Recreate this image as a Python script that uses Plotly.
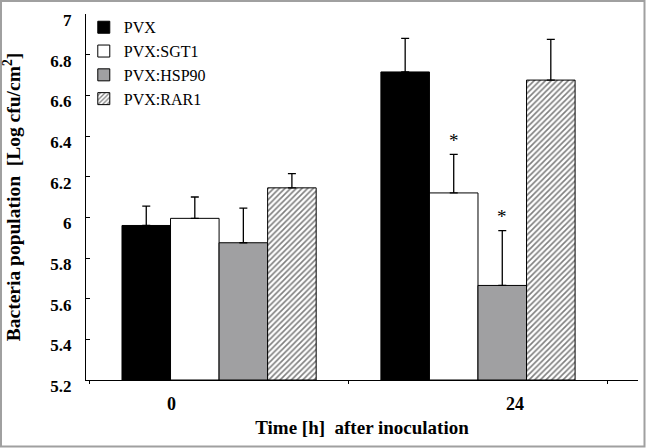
import plotly.graph_objects as go

categories = ["0", "24"]
series_names = ["PVX", "PVX:SGT1", "PVX:HSP90", "PVX:RAR1"]
pvx = [5.96, 6.715]
sgt1 = [5.995, 6.12]
hsp90 = [5.875, 5.665]
rar1 = [6.145, 6.675]
pvx_err = [0.095, 0.165]
sgt1_err = [0.105, 0.19]
hsp90_err = [0.17, 0.27]
rar1_err = [0.07, 0.20]
sgt1_sig = ["", "*"]
hsp90_sig = ["", "*"]
y_ticks = [5.2, 5.4, 5.6, 5.8, 6.0, 6.2, 6.4, 6.6, 6.8, 7.0]
y_ticktext = ["5.2", "5.4", "5.6", "5.8", "6", "6.2", "6.4", "6.6", "6.8", "7"]

W, H = 646, 448
L, R, T, B = 86, 8, 14, 68
PW, PH = W - L - R, H - T - B
SERIF = "Liberation Serif, Times New Roman, serif"

styles = [
    dict(color="black"),
    dict(color="white"),
    dict(color="#a0a0a2"),
    dict(color="white", pattern=dict(shape="/", fgcolor="black", bgcolor="white", size=4, solidity=0.4)),
]
values = [pvx, sgt1, hsp90, rar1]
errs = [pvx_err, sgt1_err, hsp90_err, rar1_err]

fig = go.Figure()
for name, v, e, st in zip(series_names, values, errs, styles):
    fig.add_trace(go.Bar(
        x=categories, y=[val - 5.2 for val in v], base=5.2, name=name,
        marker=dict(line=dict(color="black", width=1), **st),
        error_y=dict(type="data", array=e, arrayminus=[0] * len(e), symmetric=False,
                     color="black", thickness=1.3, width=4),
    ))

bar_px = 48.5
for sig, v, e, off in [(sgt1_sig, sgt1, sgt1_err, -0.5), (hsp90_sig, hsp90, hsp90_err, 0.5)]:
    for i, (s, val, err) in enumerate(zip(sig, v, e)):
        if s:
            fig.add_annotation(x=i, y=val + err, text=s, showarrow=False, xshift=off * bar_px,
                               yshift=14, font=dict(family=SERIF, size=19, color="black"))

# category labels (offset as in the reference)
for i, (c, shift) in enumerate(zip(categories, [-48, 37])):
    fig.add_annotation(x=i, xref="x", y=0, yref="paper", yanchor="top", yshift=-12, xshift=shift,
                       text="<b>%s</b>" % c, showarrow=False,
                       font=dict(family=SERIF, size=18, color="black"))

# outer grey frame
fig.add_shape(type="rect", xref="paper", yref="paper",
              x0=(1 - L) / PW, x1=(W - 1.5 - L) / PW,
              y0=(T + PH - (H - 1.5)) / PH, y1=(T + PH - 1) / PH,
              line=dict(color="#a0a0a0", width=2), fillcolor="rgba(0,0,0,0)", layer="above")

fig.update_layout(
    width=W, height=H,
    margin=dict(l=L, r=R, t=T, b=B, pad=0, autoexpand=False),
    paper_bgcolor="white", plot_bgcolor="white",
    barmode="group", bargap=0.25, bargroupgap=0,
    font=dict(family=SERIF, color="black"),
    showlegend=True,
    legend=dict(x=-0.004, y=1.01, xanchor="left", yanchor="top",
                bgcolor="rgba(0,0,0,0)", font=dict(family=SERIF, size=16),
                tracegroupgap=0, itemwidth=30),
    xaxis=dict(
        type="category", range=[-0.514, 1.618], tickson="boundaries",
        ticks="outside", ticklen=3, tickcolor="black", automargin=False,
        showticklabels=False,
        showline=True, linecolor="black", linewidth=1, showgrid=False,
        title=dict(text="<b>Time [h]  after inoculation</b>", font=dict(family=SERIF, size=19), standoff=40),
    ),
    yaxis=dict(
        range=[5.2, 7.0], tickvals=y_ticks, ticktext=y_ticktext, automargin=False,
        ticks="inside", ticklen=4, tickcolor="black",
        ticklabelshift=6,
        showline=True, linecolor="black", linewidth=1, showgrid=False, zeroline=False,
        tickfont=dict(family=SERIF, size=17, color="black", weight="bold"),
        ticklabelstandoff=10,
        title=dict(text="<b>Bacteria population  [Log cfu/cm<sup>2</sup>]</b>",
                   font=dict(family=SERIF, size=19.5), standoff=49),
    ),
)

fig.write_html("out.html", post_script="document.body.style.margin='0';",
               config={"displayModeBar": False})
